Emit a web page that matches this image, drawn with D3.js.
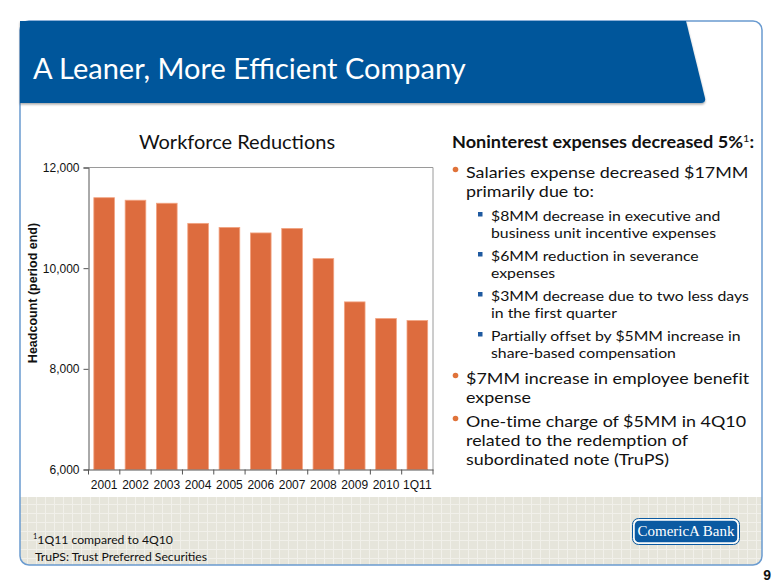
<!DOCTYPE html>
<html><head><meta charset="utf-8">
<script src="https://cdn.jsdelivr.net/npm/d3@7"></script>
<style>body{margin:0;background:#fff}svg{display:block}.nolig{font-variant-ligatures:none}</style>
</head><body>
<script>
const categories = ["2001","2002","2003","2004","2005","2006","2007","2008","2009","2010","1Q11"];
const headcount = [11400, 11350, 11290, 10890, 10810, 10700, 10790, 10190, 9330, 9000, 8960];
const yTicks = [6000, 8000, 10000, 12000];

const W = 780, H = 585;
const svg = d3.select("body").append("svg").attr("width", W).attr("height", H);
const defs = svg.append("defs");
const pat = defs.append("pattern").attr("id","grid").attr("width",9).attr("height",9).attr("patternUnits","userSpaceOnUse");
pat.append("rect").attr("width",9).attr("height",9).attr("fill","#e6e5db");
pat.append("path").attr("d","M0,0.5H9M0.5,0V9").attr("stroke","#f1f0ea").attr("stroke-width",1);
const clip = defs.append("clipPath").attr("id","frameclip");
clip.append("rect").attr("x",20).attr("y",21).attr("width",742).attr("height",544).attr("rx",9);
const sh = defs.append("filter").attr("id","shadow").attr("x","-5%").attr("y","-20%").attr("width","110%").attr("height","150%");
sh.append("feDropShadow").attr("dx",0).attr("dy",1.5).attr("stdDeviation",1.2).attr("flood-color","#000").attr("flood-opacity",0.35);

// footer
svg.append("rect").attr("x",20).attr("y",497).attr("width",742).attr("height",68)
  .attr("fill","url(#grid)").attr("clip-path","url(#frameclip)");
// frame
svg.append("rect").attr("x",20).attr("y",21).attr("width",742).attr("height",544).attr("rx",9)
  .attr("fill","none").attr("stroke","#6a9bd0").attr("stroke-width",1.5);
// header
svg.append("path").attr("d","M20,21 L686,21 L705,98 Q706,103 701,103 L20,103 Z")
  .attr("fill","#06569b").attr("filter","url(#shadow)");
svg.append("text").attr("x",33).attr("y",79).attr("fill","#fff")
  .attr("font-family","Lato, 'Open Sans', sans-serif").attr("font-size",29)
  .text("A Leaner, More Efficient Company");

// chart
const m = {l:88.5, r:433, t:167.5, b:469.5};
const x = d3.scaleBand().domain(categories).range([m.l, m.r]).paddingInner(0.34).paddingOuter(0.17);
const y = d3.scaleLinear().domain([6000, 12000]).range([m.b, m.t]);

svg.append("text").attr("x",237).attr("y",149).attr("text-anchor","middle")
  .attr("font-family","Lato, 'Open Sans', sans-serif").attr("font-size",20).attr("fill","#111")
  .text("Workforce Reductions");

const g = svg.append("g");
g.selectAll("rect.bar").data(headcount).join("rect").attr("class","bar")
  .attr("x",(d,i)=>x(categories[i])).attr("width",x.bandwidth())
  .attr("y",d=>y(d)).attr("height",d=>y(6000)-y(d))
  .attr("fill","#dd6c3e").attr("stroke","#f2a482").attr("stroke-width",0.8);

// plot border top/right
svg.append("path").attr("d",`M${m.l},${m.t}H${m.r}V${m.b}`).attr("fill","none").attr("stroke","#9a9a9a").attr("stroke-width",1);

const yAxis = svg.append("g").attr("transform",`translate(${m.l},0)`)
  .call(d3.axisLeft(y).tickValues(yTicks).tickSize(5).tickFormat(d3.format(",")));
const xAxis = svg.append("g").attr("transform",`translate(0,${m.b})`)
  .call(d3.axisBottom(x).tickSize(0).tickPadding(11));
[yAxis,xAxis].forEach(a=>{
  a.select(".domain").attr("stroke","#555");
  a.selectAll("line").attr("stroke","#555");
  a.selectAll("text").attr("font-family","Liberation Sans, Arial, sans-serif").attr("font-size",12).attr("fill","#111");
});
yAxis.selectAll("text").attr("dx",-1);
// x ticks at band boundaries
const bounds = d3.range(categories.length+1).map(i=>m.l + i*(m.r-m.l)/categories.length);
svg.append("g").selectAll("line").data(bounds).join("line")
  .attr("x1",d=>d).attr("x2",d=>d).attr("y1",m.b).attr("y2",m.b+5).attr("stroke","#555");

svg.append("text").attr("transform","translate(37,293) rotate(-90)").attr("text-anchor","middle")
  .attr("font-family","Liberation Sans, Arial, sans-serif").attr("font-weight","bold").attr("font-size",12.5)
  .attr("fill","#111").text("Headcount (period end)");

// right text block
const F = "Lato, 'Open Sans', sans-serif";
const head = svg.append("text").attr("transform","translate(452,148) scale(1,0.9)").attr("font-family",F).attr("font-weight","bold")
  .attr("font-size",18.1).attr("fill","#111");
head.append("tspan").text("Noninterest expenses decreased 5%");
head.append("tspan").attr("dy",-7).attr("font-size",11).attr("font-weight","normal").text("1");
head.append("tspan").attr("dy",7).text(":");

const lines = [
  {lvl:1, b:true, y:178, t:"Salaries expense decreased $17MM"},
  {lvl:1, b:false, y:197, t:"primarily due to:"},
  {lvl:2, b:true, y:221, t:"$8MM decrease in executive and"},
  {lvl:2, b:false, y:238, t:"business unit incentive expenses"},
  {lvl:2, b:true, y:261, t:"$6MM reduction in severance"},
  {lvl:2, b:false, y:278, t:"expenses"},
  {lvl:2, b:true, y:301, t:"$3MM decrease due to two less days"},
  {lvl:2, b:false, y:318, t:"in the first quarter"},
  {lvl:2, b:true, y:341, t:"Partially offset by $5MM increase in"},
  {lvl:2, b:false, y:358, t:"share-based compensation"},
  {lvl:1, b:true, y:384, t:"$7MM increase in employee benefit"},
  {lvl:1, b:false, y:403, t:"expense"},
  {lvl:1, b:true, y:427, t:"One-time charge of $5MM in 4Q10"},
  {lvl:1, b:false, y:446, t:"related to the redemption of"},
  {lvl:1, b:false, y:465, t:"subordinated note (TruPS)"}
];
const tb = svg.append("g");
lines.forEach(l=>{
  const sy = l.lvl===1 ? 0.85 : 0.86;
  tb.append("text").attr("class","nolig").attr("transform",`translate(${l.lvl===1?466:491},${l.y}) scale(1,${sy})`)
    .attr("font-family",F).attr("font-size", l.lvl===1?17.9:15.8).attr("fill","#111").text(l.t);
  if(l.b){
    if(l.lvl===1) tb.append("circle").attr("cx",455.5).attr("cy",l.y-8.5).attr("r",2.8).attr("fill","#e0733a");
    else tb.append("rect").attr("x",478).attr("y",l.y-9).attr("width",4.5).attr("height",4.5).attr("fill","#1f5aa0");
  }
});

// footnotes
const fn = svg.append("text").attr("x",33).attr("y",544).attr("font-family",F).attr("font-size",12.2).attr("fill","#111");
fn.append("tspan").attr("font-size",7.5).attr("dy",-5).text("1");
fn.append("tspan").attr("dy",5).text("1Q11 compared to 4Q10");
svg.append("text").attr("x",35).attr("y",561).attr("font-family",F).attr("font-size",12.2).attr("fill","#111")
  .text("TruPS: Trust Preferred Securities");

// logo
svg.append("rect").attr("x",634).attr("y",520).attr("width",104).attr("height",23).attr("rx",5)
  .attr("fill","#0b5aa2").attr("stroke","#fff").attr("stroke-width",1.5);
svg.append("rect").attr("x",632.5).attr("y",518.5).attr("width",107).attr("height",26).attr("rx",6)
  .attr("fill","none").attr("stroke","#0b5aa2").attr("stroke-width",1);
svg.append("text").attr("x",686).attr("y",536).attr("text-anchor","middle").attr("fill","#fff")
  .attr("font-family","'Liberation Serif', 'DejaVu Serif', serif").attr("font-size",15).text("ComericA Bank");

// page number
svg.append("text").attr("x",771).attr("y",580).attr("text-anchor","end").attr("font-family","Liberation Sans, Arial, sans-serif")
  .attr("font-weight","bold").attr("font-size",14).attr("fill","#111").text("9");
</script>
</body></html>
